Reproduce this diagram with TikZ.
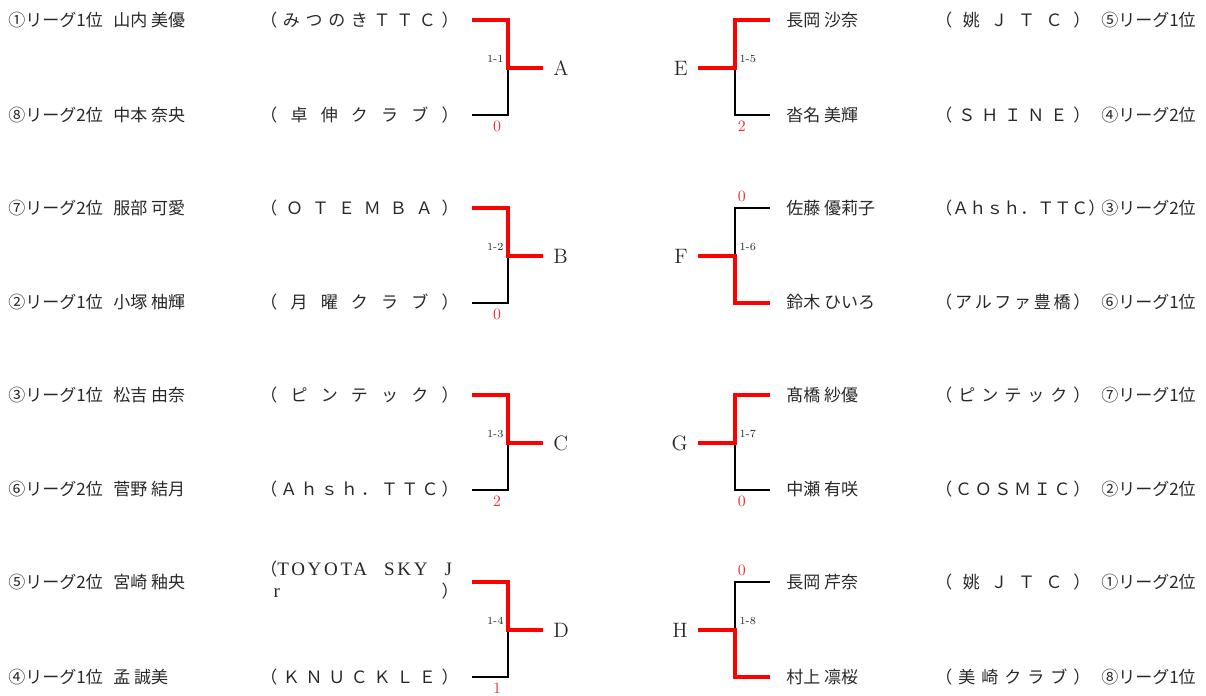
\documentclass[tikz,border=0pt]{standalone}
\usepackage{fontspec}
\newfontfamily\jp{Noto Sans CJK JP}
\newfontfamily\latinserif{Liberation Serif}[LetterSpace=14,Scale=1.12]
\usetikzlibrary{positioning}
\definecolor{winred}{RGB}{255,0,0}
\definecolor{scorered}{RGB}{238,50,50}
\definecolor{inkgray}{RGB}{40,40,40}
\newlength\clubl \setlength\clubl{119pt}
\newlength\clubr \setlength\clubr{93pt}
% spread the letters of a club name over a fixed width
\makeatletter
\newcommand\spreadbox[2]{\makebox[#1][s]{\expandafter\spread@first#2\@nil}}
\def\spread@first#1{\ifx#1\@nil\else#1\expandafter\spread@next\fi}
\def\spread@next#1{\ifx#1\@nil\else\hfill#1\expandafter\spread@next\fi}
\makeatother
\newcommand\toyotaclub{\begin{tabular}{@{}l@{}}\makebox[\clubl][s]{（{\latinserif TOYOTA}\hfill{\latinserif SKY}\hfill{\latinserif J}\hspace{4pt}}\\\makebox[\clubl][s]{\hspace{8pt}{\latinserif r}\hfill ）}\end{tabular}}

\begin{document}
\begin{tikzpicture}[x=0.6pt,y=-0.6pt,
  win/.style={winred,line width=2.8pt},
  lose/.style={black,line width=1.7pt},
  jptext/.style={font=\jp\fontsize{10.2}{13.2}\selectfont,text=inkgray,inner sep=0pt},
  matchlbl/.style={font=\fontsize{12.5}{14}\selectfont,text=inkgray,inner sep=0pt},
  matchno/.style={font=\fontsize{6.5}{8}\selectfont,text=inkgray,inner sep=0pt},
  score/.style={font=\fontsize{9.5}{11}\selectfont,text=scorered,inner sep=0pt}]
\useasboundingbox (0,0) rectangle (1206,695);

% left half: matches 1-1 to 1-4, top player wins
\foreach \m/\y/\s [count=\k] in {A/20/0, B/208/0, C/395/2, D/582/1}{
  \coordinate (\m-top) at (472,\y);
  \coordinate (\m-ctop) at (508,\y);
  \coordinate (\m-mid) at (508,\y+48);
  \coordinate (\m-cbot) at (508,\y+95);
  \coordinate (\m-bot) at (472,\y+95);
  \coordinate (\m-out) at (543,\y+48);
  \draw[lose] (\m-mid) -- (\m-cbot) -- (\m-bot);
  \draw[win] (\m-top) -- (\m-ctop) -- (\m-mid) -- (\m-out);
  \node[matchlbl,right=6pt of \m-out] (\m) {\m};
  \node[matchno,above left=3pt and 2.5pt of \m-mid] (\m-no) {1-\k};
  \node[score,anchor=north east,xshift=-4pt,yshift=-3.2pt] (\m-sc) at (\m-cbot) {\s};
}

% right half: matches 1-5 to 1-8
\foreach \m/\y/\s/\w/\l/\an/\sy [count=\k from 5] in {
    E/20/2/top/bot/north west/-3.2pt, F/208/0/bot/top/south west/3.6pt,
    G/395/0/top/bot/north west/-3.2pt, H/582/0/bot/top/south west/3.6pt}{
  \coordinate (\m-top) at (770,\y);
  \coordinate (\m-ctop) at (735,\y);
  \coordinate (\m-mid) at (735,\y+48);
  \coordinate (\m-cbot) at (735,\y+95);
  \coordinate (\m-bot) at (770,\y+95);
  \coordinate (\m-out) at (698,\y+48);
  \draw[lose] (\m-mid) -- (\m-c\l) -- (\m-\l);
  \draw[win] (\m-\w) -- (\m-c\w) -- (\m-mid) -- (\m-out);
  \node[matchlbl,left=6pt of \m-out] (\m) {\m};
  \node[matchno,above right=3pt and 2.5pt of \m-mid] (\m-no) {1-\k};
  \node[score,anchor=\an,xshift=1.5pt,yshift=\sy] (\m-sc) at (\m-c\l) {\s};
}

% players, left
\foreach \y/\rk/\nm/\cl [count=\k] in {
    20/①リーグ1位/山内 美優/（みつのきＴＴＣ）,
    115/⑧リーグ2位/中本 奈央/（卓伸クラブ）,
    208/⑦リーグ2位/服部 可愛/（ＯＴＥＭＢＡ）,
    302/②リーグ1位/小塚 柚輝/（月曜クラブ）,
    395/③リーグ1位/松吉 由奈/（ピンテック）,
    489/⑥リーグ2位/菅野 結月/（Ａｈｓｈ．ＴＴＣ）,
    582/⑤リーグ2位/宮崎 釉央/\toyotaclub,
    677/④リーグ1位/孟 誠美/（ＫＮＵＣＫＬＥ）}{
  \node[jptext,anchor=west] (lrk\k) at (8,\y) {\rk};
  \node[jptext,anchor=west] (lnm\k) at (113,\y) {\nm};
  \node[jptext,anchor=west] (lcl\k) at (260,\y) {\spreadbox{\clubl}{\cl}};
}

% players, right
\foreach \y/\nm/\cl/\rk [count=\k] in {
    20/長岡 沙奈/（姚ＪＴＣ）/⑤リーグ1位,
    115/沓名 美輝/（ＳＨＩＮＥ）/④リーグ2位,
    208/佐藤 優莉子/（Ａｈｓｈ．ＴＴＣ）/③リーグ2位,
    302/鈴木 ひいろ/（アルファ豊橋）/⑥リーグ1位,
    395/髙橋 紗優/（ピンテック）/⑦リーグ1位,
    489/中瀬 有咲/（ＣＯＳＭＩＣ）/②リーグ2位,
    582/長岡 芹奈/（姚ＪＴＣ）/①リーグ2位,
    677/村上 凛桜/（美崎クラブ）/⑧リーグ1位}{
  \node[jptext,anchor=west] (rnm\k) at (786,\y) {\nm};
  \node[jptext,anchor=west] (rcl\k) at (935,\y) {\spreadbox{\clubr}{\cl}};
  \node[jptext,anchor=east] (rrk\k) at (1196,\y) {\rk};
}
\end{tikzpicture}
\end{document}
